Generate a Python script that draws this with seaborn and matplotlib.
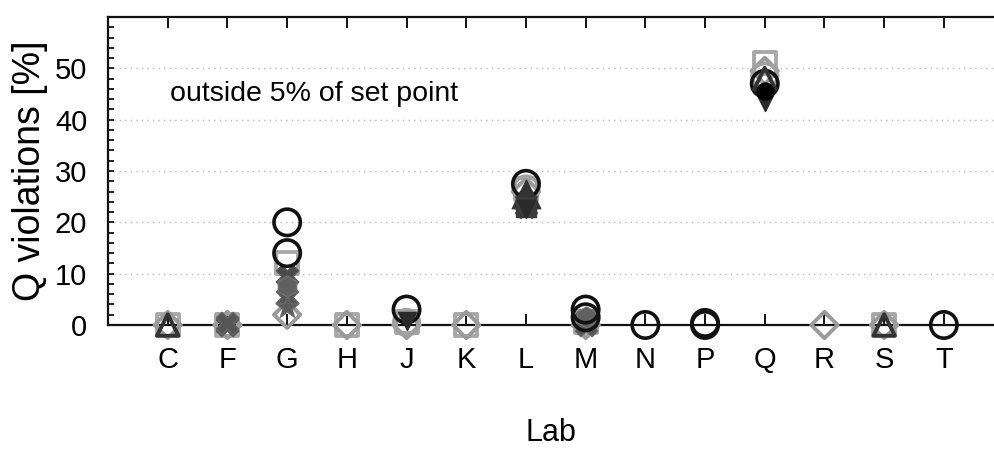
import numpy as np
import matplotlib
matplotlib.use("Agg")
import matplotlib.pyplot as plt
import seaborn as sns
from matplotlib.ticker import MultipleLocator

nan = np.nan
labs = ['C', 'F', 'G', 'H', 'J', 'K', 'L', 'M', 'N', 'P', 'Q', 'R', 'S', 'T']

# Q violations [%] per lab, one array per marker series (NaN = no point)
square_g  = [0.0, 0.0, 12.0, 0.0, 0.5, 0.0, 26.5, 0.5, nan, nan, 51.0, nan, 0.0, nan]
diamond_g = [0.0, 0.0, 2.0, 0.0, 0.0, 0.0, 26.0, 0.0, nan, nan, 49.5, 0.0, 0.0, nan]
circle_g  = [nan, nan, nan, nan, 0.5, nan, 26.5, nan, nan, nan, 48.5, nan, nan, nan]
xmark_a   = [nan, 0.0, 9.5, nan, nan, nan, 24.0, 1.0, nan, nan, nan, nan, nan, nan]
xmark_b   = [nan, 0.4, 5.5, nan, nan, nan, 23.0, 0.0, nan, nan, nan, nan, nan, nan]
hex_d     = [nan, nan, 7.5, nan, nan, nan, nan, 1.5, nan, nan, nan, nan, nan, nan]
star_d    = [nan, nan, 3.5, nan, nan, nan, nan, nan, nan, nan, nan, nan, nan, nan]
circle_a  = [nan, nan, 20.0, nan, 3.0, nan, 27.5, 3.0, 0.0, 0.4, 47.0, nan, nan, 0.0]
circle_b  = [nan, nan, 14.0, nan, nan, nan, nan, 1.5, nan, 0.0, nan, nan, nan, nan]
tri_open  = [0.0, nan, nan, nan, nan, nan, nan, nan, nan, nan, 48.0, nan, 0.0, nan]
tri_fill  = [nan, nan, nan, nan, nan, nan, 25.5, nan, nan, nan, nan, nan, nan, nan]
sq_fill   = [nan, nan, nan, nan, nan, nan, 23.0, nan, nan, nan, nan, nan, nan, nan]
v_fill    = [nan, nan, nan, nan, 0.8, nan, 22.5, nan, nan, nan, 43.5, nan, nan, nan]
dot_fill  = [nan, nan, nan, nan, nan, nan, nan, nan, nan, nan, 45.5, nan, nan, nan]

y_ticks = [0, 10, 20, 30, 40, 50]

sns.set_style("ticks")
plt.rcParams['font.family'] = ['Liberation Sans', 'DejaVu Sans']
plt.rcParams['text.color'] = 'black'
plt.rcParams['axes.labelcolor'] = 'black'
plt.rcParams['xtick.color'] = 'black'
plt.rcParams['ytick.color'] = 'black'

fig = plt.figure(figsize=(9.94, 4.49), dpi=100)
ax = fig.add_axes([0.1087, 0.2762, 0.8913, 0.6859])

xpos = np.arange(len(labs))


def pts(vals, marker, size, fc, ec, lw, z):
    y = np.array(vals, dtype=float)
    m = ~np.isnan(y)
    sns.scatterplot(x=xpos[m], y=y[m], marker=marker, s=size, color=ec,
                    facecolor=fc, edgecolor=ec, linewidth=lw, ax=ax,
                    clip_on=False, zorder=z, legend=False)


pts(square_g, 's', 250, 'none', '#a8a8a8', 2.8, 3)
pts(diamond_g, 'D', 180, 'none', '#9a9a9a', 2.8, 3)
pts(circle_g, 'o', 330, 'none', '#a0a0a0', 2.8, 3)
pts(xmark_a, 'X', 260, '#4a4a4a', '#5a5a5a', 1.0, 4)
pts(xmark_b, 'X', 260, '#555555', '#666666', 1.0, 4)
pts(hex_d, 'h', 230, '#606060', '#707070', 1.0, 4)
pts(star_d, '*', 300, '#5a5a5a', '#6a6a6a', 1.0, 4)
pts(circle_a, 'o', 360, 'none', '#111111', 2.6, 5)
pts(circle_b, 'o', 360, 'none', '#111111', 2.6, 5)
pts(tri_open, '^', 240, 'none', '#333333', 2.8, 6)
pts(tri_fill, '^', 420, '#333333', '#333333', 1.0, 6)
pts(sq_fill, 's', 220, '#3a3a3a', '#3a3a3a', 1.0, 6)
pts(v_fill, 'v', 170, '#2a2a2a', '#2a2a2a', 1.0, 6)
pts(dot_fill, 'o', 150, '#000000', '#000000', 1.0, 7)

ax.set_xlim(-1, 13.84)
ax.set_ylim(0, 60)
ax.set_xticks(xpos)
ax.set_xticklabels(labs)
ax.set_yticks(y_ticks)
ax.yaxis.set_minor_locator(MultipleLocator(2))

ax.grid(axis='y', which='major', linestyle=(0, (1, 3)), color='#bdbdbd', linewidth=1.0)
ax.set_axisbelow(True)

for s in ['left', 'top', 'bottom']:
    ax.spines[s].set_color('#111111')
    ax.spines[s].set_linewidth(1.6)
ax.spines['right'].set_visible(False)

ax.tick_params(axis='x', which='major', direction='in', top=True, bottom=True,
               length=8, width=1.4, color='#111111', labelsize=21, pad=15)
ax.tick_params(axis='y', which='major', direction='in', left=True, right=False,
               length=4, width=1.3, color='#111111', labelsize=21, pad=15)
ax.tick_params(axis='y', which='minor', direction='in', left=True, right=False,
               length=4, width=1.3, color='#111111')

ax.set_xlabel('Lab', fontsize=22, labelpad=32)
ax.set_ylabel('Q violations [%]', fontsize=27, labelpad=5)

ax.text(0.03, 45, 'outside 5% of set point', fontsize=20.5, ha='left', va='center')

fig.savefig('out.png', dpi=100)
